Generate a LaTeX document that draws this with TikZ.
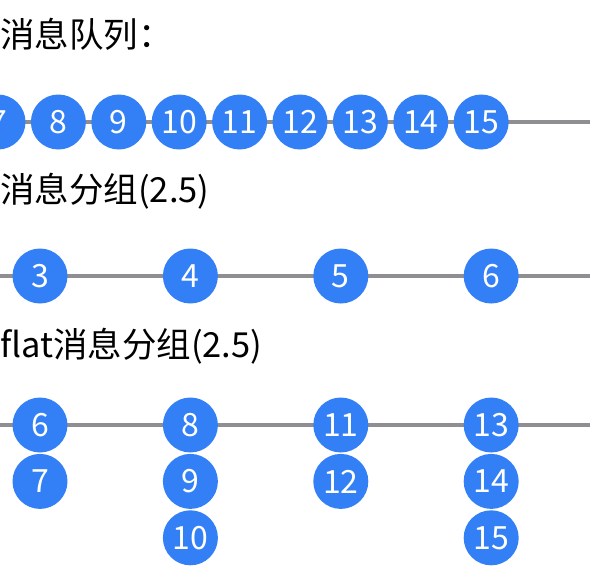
\documentclass[tikz,border=0pt]{standalone}
\usepackage{fontspec}
\setmainfont{Noto Sans CJK SC}
\usetikzlibrary{positioning}
\definecolor{msgblue}{RGB}{51,127,246}
\definecolor{linegray}{RGB}{142,142,147}

\begin{document}
\begin{tikzpicture}[x=1pt,y=-1pt,
    msg/.style={circle,fill=msgblue,text=white,minimum size=55pt,inner sep=0pt,font=\fontsize{32}{32}\selectfont},
    title/.style={anchor=base west,inner sep=0pt,font=\fontsize{34.5}{34.5}\selectfont},
    track/.style={draw=linegray,line width=3.5pt}]
    \useasboundingbox (0,0) rectangle (590,582);
    % message queue
    \node[title] (t-queue) at (0,47) {消息队列：};
    \coordinate (q-in) at (0,122);
    \coordinate (q-out) at (590,122);
    \draw[track] (q-in) -- (q-out);
    \node[msg] (q7) at (-2,122) {7};
    \node[msg,right=5pt of q7] (q8) {8};
    \node[msg,right=5pt of q8] (q9) {9};
    \node[msg,right=5pt of q9] (q10) {10};
    \node[msg,right=5pt of q10] (q11) {11};
    \node[msg,right=5pt of q11] (q12) {12};
    \node[msg,right=5pt of q12] (q13) {13};
    \node[msg,right=5pt of q13] (q14) {14};
    \node[msg,right=5pt of q14] (q15) {15};
    % grouped, one per window
    \node[title] (t-group) at (0,202) {消息分组(2.5)};
    \coordinate (g-in) at (0,276);
    \coordinate (g-out) at (590,276);
    \draw[track] (g-in) -- (g-out);
    \node[msg] (g3) at (40,276) {3};
    \node[msg,right=95pt of g3] (g4) {4};
    \node[msg,right=95pt of g4] (g5) {5};
    \node[msg,right=95pt of g5] (g6) {6};
    % flat grouped, stacked per window
    \node[title] (t-flat) at (0,357) {flat消息分组(2.5)};
    \coordinate (f-in) at (0,425);
    \coordinate (f-out) at (590,425);
    \draw[track] (f-in) -- (f-out);
    \node[msg] (f6) at (40,425) {6};
    \node[msg,below=1pt of f6] (f7) {7};
    \node[msg,right=95pt of f6] (f8) {8};
    \node[msg,below=1pt of f8] (f9) {9};
    \node[msg,below=1pt of f9] (f10) {10};
    \node[msg,right=95pt of f8] (f11) {11};
    \node[msg,below=1pt of f11] (f12) {12};
    \node[msg,right=95pt of f11] (f13) {13};
    \node[msg,below=1pt of f13] (f14) {14};
    \node[msg,below=1pt of f14] (f15) {15};
\end{tikzpicture}
\end{document}
